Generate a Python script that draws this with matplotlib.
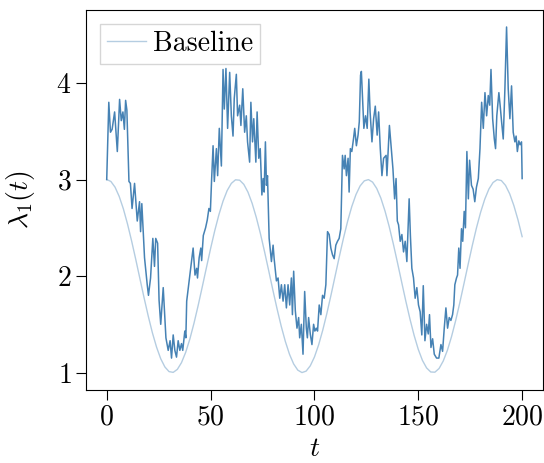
import numpy as np
import matplotlib
matplotlib.use("Agg")
import matplotlib.pyplot as plt

# baseline every 2 time units
base_t = np.arange(0, 201, 2)
base_vals = [
    3.000, 2.980, 2.921, 2.825, 2.697, 2.540, 2.362, 2.170, 1.971, 1.773,
    1.584, 1.411, 1.263, 1.143, 1.058, 1.010, 1.002, 1.033, 1.103, 1.209,
    1.346, 1.510, 1.693, 1.888, 2.087, 2.284, 2.469, 2.635, 2.776, 2.886,
    2.960, 2.997, 2.993, 2.950, 2.869, 2.754, 2.608, 2.439, 2.251, 2.054,
    1.854, 1.661, 1.481, 1.322, 1.189, 1.089, 1.025, 1.000, 1.015, 1.070,
    1.161, 1.286, 1.439, 1.614, 1.805, 2.004, 2.203, 2.394, 2.569, 2.721,
    2.844, 2.934, 2.986, 2.999, 2.973, 2.907, 2.806, 2.672, 2.512, 2.331,
    2.137, 1.937, 1.740, 1.554, 1.385, 1.240, 1.126, 1.048, 1.006, 1.004,
    1.042, 1.119, 1.230, 1.372, 1.539, 1.725, 1.922, 2.121, 2.316, 2.498,
    2.660, 2.796, 2.901, 2.969, 2.999, 2.989, 2.939, 2.852, 2.731, 2.582,
    2.408,
]

# observed intensity, read point by point
t_obs = [
    0, 1.0, 1.8, 2.6, 3.8, 5.1, 6.2, 7.0, 7.8, 8.5, 9.1, 9.7, 10.7, 11.4,
    12.2, 13.4, 14.7, 15.8, 16.3, 16.9, 18.2, 19.5, 20.1, 21.1, 22.2, 23.0,
    23.6, 24.5, 25.2, 26.0, 27.2, 28.5, 29.6, 30.5, 31.2, 32.0, 32.8, 33.6,
    34.4, 35.2, 36.0, 36.6, 37.6, 38.1, 38.5, 39.7, 40.4, 41.6, 42.5, 43.3,
    43.7, 44.5, 45.3, 45.7, 46.5, 47.6, 48.4, 49.2, 49.9, 50.5, 51.2, 51.8,
    52.8, 53.4, 54.2, 55.2, 56.0, 56.6, 57.4, 58.2, 59.2, 60.0, 60.8, 61.4,
    62.4, 63.0, 64.0, 64.6, 65.5, 66.4, 67.2, 67.8, 68.8, 69.4, 70.2, 70.8,
    71.8, 72.4, 73.2, 73.9, 74.7, 75.3, 75.8, 76.4, 76.9, 77.4, 78.2, 79.3,
    80.1, 80.6, 81.2, 81.7, 82.5, 83.3, 84.1, 84.9, 85.7, 86.5, 87.3, 88.1,
    88.9, 89.4, 90.0, 90.8, 91.6, 92.4, 92.9, 93.7, 94.5, 95.3, 96.1, 96.6,
    97.2, 98.0, 98.8, 99.6, 100.2, 100.9, 101.5, 102.3, 103.1, 103.9, 104.7,
    105.5, 106.3, 107.1, 107.9, 108.7, 109.5, 110.3, 111.1, 111.9, 112.7,
    113.5, 114.3, 114.8, 115.4, 116.2, 116.7, 117.3, 118.0, 118.8, 119.4,
    120.2, 121.0, 121.6, 122.2, 122.6, 123.8, 124.6, 125.4, 126.2, 126.8,
    127.7, 128.5, 129.3, 130.2, 130.9, 131.7, 132.5, 133.3, 134.5, 134.9,
    136.1, 137.0, 137.8, 138.6, 139.3, 139.9, 140.5, 141.3, 142.1, 142.9,
    143.7, 144.5, 145.6, 146.2, 146.9, 147.7, 148.5, 149.3, 150.1, 150.9,
    151.7, 152.4, 153.2, 154.0, 154.8, 155.4, 156.1, 156.9, 157.7, 158.8,
    159.9, 160.9, 161.7, 162.5, 163.3, 164.1, 164.9, 165.7, 166.5, 167.1,
    167.6, 168.4, 168.9, 169.5, 170.1, 170.8, 171.4, 172.1, 172.7, 173.4,
    174.1, 174.7, 175.6, 176.4, 177.2, 178.0, 178.9, 179.7, 180.5, 181.3,
    182.1, 182.9, 183.7, 184.4, 185.0, 185.8, 186.6, 187.2, 187.8, 188.8,
    189.4, 190.1, 190.9, 191.7, 192.5, 193.3, 194.1, 194.9, 195.7, 196.5,
    197.1, 197.7, 198.4, 199.0, 199.7, 200.0,
]
lam_obs = [
    3.00, 3.80, 3.49, 3.52, 3.70, 3.29, 3.83, 3.61, 3.70, 3.52, 3.82, 3.72, 2.98, 2.96,
    2.70, 2.96, 2.57, 2.77, 2.46, 2.75, 2.19, 1.91, 1.80, 1.98, 2.39, 2.10,
    2.39, 2.34, 1.75, 1.50, 1.88, 1.36, 1.23, 1.33, 1.15, 1.39, 1.23, 1.16,
    1.33, 1.23, 1.30, 1.23, 1.43, 1.36, 1.74, 1.95, 2.08, 2.29, 2.01, 2.08,
    1.98, 2.19, 2.29, 2.16, 2.42, 2.50, 2.58, 2.70, 2.67, 3.00, 3.35, 2.98,
    3.32, 3.04, 3.53, 3.14, 4.14, 3.73, 4.15, 3.53, 4.11, 3.66, 3.45, 3.84,
    4.09, 3.66, 3.77, 3.56, 3.94, 3.49, 3.66, 3.39, 3.18, 3.80, 3.39, 3.63,
    3.18, 3.70, 3.22, 3.32, 2.84, 3.01, 2.87, 3.39, 2.94, 3.04, 2.39, 2.15,
    2.32, 2.18, 2.05, 1.95, 1.98, 1.77, 1.91, 1.74, 1.91, 1.67, 1.91, 1.70,
    1.98, 1.60, 2.05, 1.64, 1.46, 1.57, 1.36, 1.50, 1.19, 1.84, 1.46, 1.36,
    1.57, 1.40, 1.29, 1.50, 1.43, 1.46, 1.43, 1.70, 1.60, 1.80, 1.77,
    1.91, 2.46, 2.43, 2.29, 2.22, 2.18, 2.32, 2.36, 2.39, 2.49,
    3.25, 3.11, 3.25, 3.04, 3.22, 2.87, 3.32, 3.29, 3.42, 3.53,
    3.35, 3.46, 3.60, 4.08, 4.12, 3.53, 3.66, 3.53, 4.04, 3.70,
    3.39, 3.63, 3.76, 3.46, 3.70, 3.32, 3.04, 3.22, 3.25, 3.04,
    3.56, 3.32, 3.11, 2.80, 3.01, 2.57, 2.53, 2.36, 2.43, 2.25,
    2.36, 2.15, 2.80, 2.42, 2.08, 1.98, 1.77, 1.88, 1.70, 1.63,
    1.39, 1.90, 1.33, 1.50, 1.40, 1.60, 1.26, 1.35, 1.19, 1.15,
    1.15, 1.29, 1.22, 1.46, 1.67, 1.46, 1.57, 1.54, 1.60, 1.70,
    1.91, 1.98, 2.01, 2.29, 2.08, 2.49, 2.36, 2.67, 2.50, 3.29,
    2.80, 3.20, 2.94, 2.90, 2.77, 2.92, 3.01, 3.32, 3.80, 3.53,
    3.90, 3.66, 3.87, 3.77, 4.14, 3.63, 3.42, 3.32, 3.66, 3.90,
    3.77, 3.60, 3.42, 3.94, 4.58, 3.94, 3.63, 3.97, 3.49, 3.39,
    3.45, 3.29, 3.40, 3.36, 3.39, 3.01,
]

x_ticks = [0, 50, 100, 150, 200]
y_ticks = [1, 2, 3, 4]

plt.rcParams["font.family"] = "serif"
plt.rcParams["font.serif"] = ["cmr10"]
plt.rcParams["mathtext.fontset"] = "cm"
plt.rcParams["axes.formatter.use_mathtext"] = True

fig = plt.figure(figsize=(5.44, 4.63), dpi=100)
ax = fig.add_axes([0.158, 0.158, 0.840, 0.821])

ax.plot(t_obs, lam_obs, color="steelblue", linewidth=1.1)
ax.plot(base_t, base_vals, color="steelblue", alpha=0.4, linewidth=1.0, label="Baseline")

ax.set_xticks(x_ticks)
ax.set_yticks(y_ticks)
ax.set_xlabel(r"$t$", fontsize=20, labelpad=3.5)
ax.set_ylabel(r"$\lambda_1(t)$", fontsize=20, labelpad=14)
ax.tick_params(labelsize=20, length=7, width=0.8, direction="out")

for spine in ax.spines.values():
    spine.set_linewidth(0.8)

ax.legend(loc="upper left", fontsize=20, fancybox=False, edgecolor="0.8",
          handlelength=1.4, borderpad=0.25, handletextpad=0.25,
          borderaxespad=0.5)

fig.savefig("out.png", dpi=100)
